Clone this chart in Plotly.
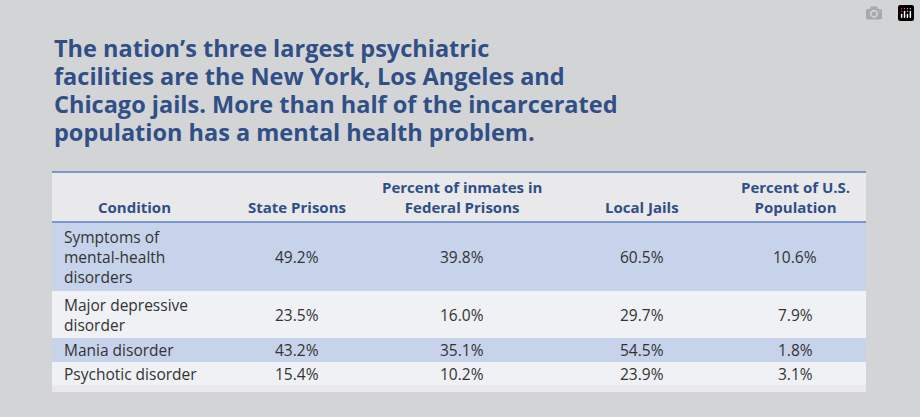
import plotly.graph_objects as go

title_lines = [
    "The nation’s three largest psychiatric",
    "facilities are the New York, Los Angeles and",
    "Chicago jails. More than half of the incarcerated",
    "population has a mental health problem.",
]
conditions = ["Symptoms of<br>mental-health<br>disorders", "Major depressive<br>disorder",
              "Mania disorder", "Psychotic disorder"]
state_prisons = ["49.2%", "23.5%", "43.2%", "15.4%"]
federal_prisons = ["39.8%", "16.0%", "35.1%", "10.2%"]
local_jails = ["60.5%", "29.7%", "54.5%", "23.9%"]
us_population = ["10.6%", "7.9%", "1.8%", "3.1%"]
headers = ["Condition", "State Prisons", "Percent of inmates in<br>Federal Prisons",
           "Local Jails", "Percent of U.S.<br>Population"]

W, H = 920, 417
blue = "#2f4f86"
col_x = [134, 297, 462, 642, 795]
row_edges = [222, 291, 338, 362, 385]
row_fill = ["rgba(196,210,234,0.95)", "rgba(240,242,246,0.85)",
            "rgba(196,210,234,0.95)", "rgba(240,242,246,0.85)"]

fig = go.Figure()
shapes, ann = [], []

# table backdrop
shapes.append(dict(type="rect", x0=52, x1=866, y0=172, y1=392, fillcolor="rgba(240,240,242,0.75)",
                   line_width=0, layer="below"))
shapes.append(dict(type="line", x0=52, x1=866, y0=172, y1=172, line=dict(color="#5a7fc0", width=1.5)))
shapes.append(dict(type="line", x0=52, x1=866, y0=222, y1=222, line=dict(color="#5a7fc0", width=1.5)))
for i in range(len(conditions)):
    shapes.append(dict(type="rect", x0=52, x1=866, y0=row_edges[i], y1=row_edges[i + 1],
                       fillcolor=row_fill[i], line_width=0, layer="below"))

for line_i, t in enumerate(title_lines):
    ann.append(dict(x=52, y=48 + line_i * 28, text=t, xanchor="left", yanchor="middle", showarrow=False,
                    font=dict(family="Open Sans", size=23.5, color=blue, weight="bold")))

for h, x in zip(headers, col_x):
    ann.append(dict(x=x, y=219, text=h, xanchor="center", yanchor="bottom", showarrow=False,
                    font=dict(family="Open Sans", size=15, color=blue, weight="bold")))

columns = [state_prisons, federal_prisons, local_jails, us_population]
for i, cond in enumerate(conditions):
    yc = (row_edges[i] + row_edges[i + 1]) / 2
    ann.append(dict(x=62, y=yc, text=cond, xanchor="left", yanchor="middle", align="left",
                    showarrow=False, font=dict(family="Open Sans", size=15.5, color="#333")))
    for col, x in zip(columns, col_x[1:]):
        ann.append(dict(x=x, y=yc, text=col[i], xanchor="center", yanchor="middle", showarrow=False,
                        font=dict(family="Open Sans", size=15.5, color="#333")))

fig.update_layout(
    width=W, height=H, margin=dict(l=0, r=0, t=0, b=0),
    paper_bgcolor="#d3d4d6", plot_bgcolor="#d3d4d6",
    xaxis=dict(range=[0, W], visible=False, fixedrange=True),
    yaxis=dict(range=[H, 0], visible=False, fixedrange=True),
    shapes=shapes, annotations=ann, showlegend=False,
)
fig.write_html("out.html", post_script="document.body.style.margin='0';")
